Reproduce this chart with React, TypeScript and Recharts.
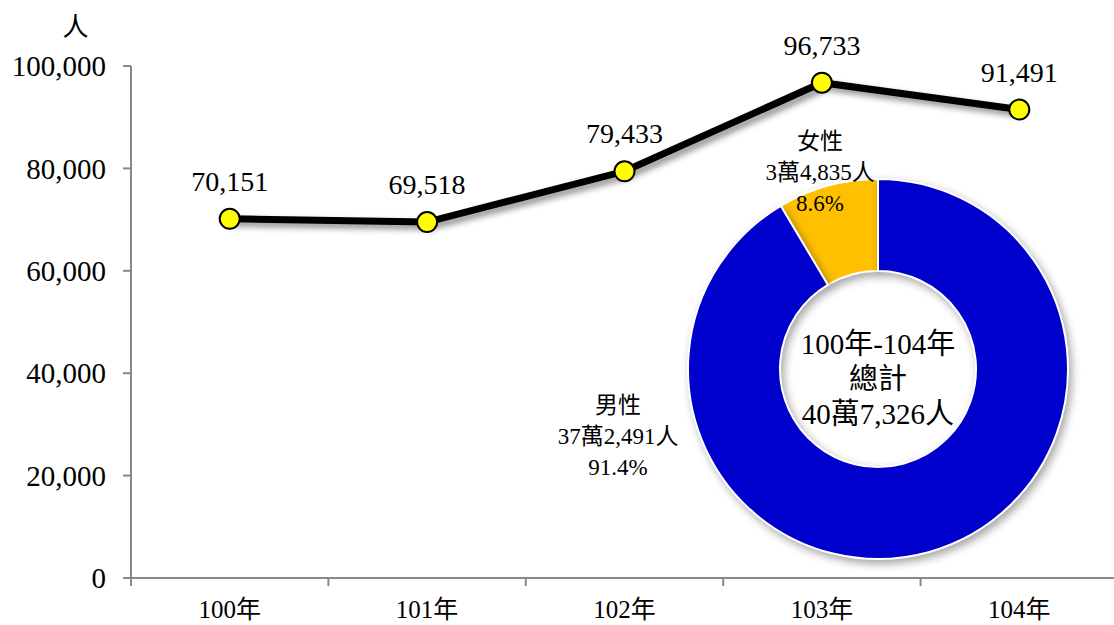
import { LineChart, Line, XAxis, YAxis, LabelList, PieChart, Pie, Cell } from "recharts";

const YEARS = ["100年", "101年", "102年", "103年", "104年"];
const COUNTS = [70151, 69518, 79433, 96733, 91491];
const Y_TICKS = [0, 20000, 40000, 60000, 80000, 100000];

const GENDERS = ["女性", "男性"];
const GENDER_COUNTS = [34835, 372491];
const GENDER_COLORS = ["#FFC000", "#0000CC"];

const W = 1114;
const H = 625;
const LEFT = 131;
const RIGHT = -4;
const PLOT_W = W - LEFT - RIGHT;
const HALF_BAND = PLOT_W / YEARS.length / 2;

const FONT = '"Liberation Serif", "Times New Roman", "Noto Sans CJK TC", serif';

const lineData = YEARS.map((year, i) => ({ year, count: COUNTS[i] }));
const pieData = GENDERS.map((name, i) => ({ name, value: GENDER_COUNTS[i], color: GENDER_COLORS[i] }));
const TOTAL = GENDER_COUNTS.reduce((a, b) => a + b, 0);

const fmtNum = (v: number) => v.toLocaleString("en-US");
const fmtWan = (v: number) => {
  const wan = Math.floor(v / 10000);
  const rest = v % 10000;
  if (wan === 0) return `${fmtNum(rest)}人`;
  const s = String(rest).padStart(4, "0");
  return `${wan}萬${s[0]},${s.slice(1)}人`;
};

const XTick = (props: any) => {
  const { x, y, payload, index } = props;
  const last = index === YEARS.length - 1;
  const axisY = y - 8;
  return (
    <g>
      <line x1={x - HALF_BAND} x2={x - HALF_BAND} y1={axisY} y2={axisY + 8} stroke="#888" strokeWidth={2} />
      {last && <line x1={x + HALF_BAND} x2={x + HALF_BAND} y1={axisY} y2={axisY + 8} stroke="#888" strokeWidth={2} />}
      <text x={x} y={axisY + 31} textAnchor="middle" dominantBaseline="central" fontSize={25} fill="#000" fontFamily={FONT}>
        {payload.value}
      </text>
    </g>
  );
};

const LABEL_OFFSETS: Record<string, { dx: number; dy: number }> = {
  女性: { dx: -58, dy: -228 },
  男性: { dx: -260, dy: 36 },
};

const renderPieLabel = (props: any) => {
  const { cx, cy, name, value, percent, index } = props;
  const o = LABEL_OFFSETS[name] ?? { dx: 0, dy: 0 };
  const x = cx + o.dx;
  const y = cy + o.dy;
  const lines = [name, fmtWan(value), `${(percent * 100).toFixed(1)}%`];
  const center = ["100年-104年", "總計", fmtWan(TOTAL)];
  return (
    <g>
      <text x={x} y={y} textAnchor="middle" fontSize={23} fill="#000" fontFamily={FONT}>
        {lines.map((t, i) => (
          <tspan key={i} x={x} y={y + i * 31} dominantBaseline="central">
            {t}
          </tspan>
        ))}
      </text>
      {index === 0 && (
        <text x={cx} y={cy} textAnchor="middle" fontSize={29} fill="#000" fontFamily={FONT}>
          {center.map((t, i) => (
            <tspan key={i} x={cx} y={cy - 25 + i * 35} dominantBaseline="central">
              {t}
            </tspan>
          ))}
        </text>
      )}
    </g>
  );
};

export default function App() {
  return (
    <div style={{ position: "absolute", top: 0, left: 0, width: W, height: H, background: "#fff", fontFamily: FONT, overflow: "hidden" }}>
      <style>{`
        .trend-line .recharts-line-curve, .trend-line .recharts-line-dots { filter: drop-shadow(4px 4px 3px rgba(0,0,0,0.45)); }
        .gender-pie .recharts-pie-sector { filter: drop-shadow(3px 4px 4px rgba(0,0,0,0.35)); }
      `}</style>
      <div style={{ position: "absolute", top: 0, left: 0 }}>
        <LineChart width={W} height={H} data={lineData} margin={{ top: 66, right: RIGHT, bottom: 0, left: 0 }}>
          <XAxis
            dataKey="year"
            height={47}
            padding={{ left: HALF_BAND, right: HALF_BAND }}
            axisLine={{ stroke: "#888", strokeWidth: 2 }}
            tickLine={false}
            tick={<XTick />}
            interval={0}
          />
          <YAxis
            width={LEFT}
            domain={[0, 100000]}
            ticks={Y_TICKS}
            tickFormatter={fmtNum}
            axisLine={{ stroke: "#888", strokeWidth: 2 }}
            tickLine={{ stroke: "#888", strokeWidth: 2 }}
            tickSize={8}
            tickMargin={17}
            tick={{ fontSize: 29, fill: "#000", fontFamily: FONT }}
            label={{ value: "人", position: "top", offset: 30, dx: 10, fontSize: 26, fill: "#000", fontFamily: FONT }}
          />
          <Line
            className="trend-line"
            dataKey="count"
            stroke="#000"
            strokeWidth={7}
            dot={{ r: 10, fill: "#FFFF00", stroke: "#000", strokeWidth: 2 }}
            isAnimationActive={false}
          >
            <LabelList dataKey="count" position="top" offset={28} formatter={(v: any) => fmtNum(Number(v))} style={{ fontSize: 28, fill: "#000", fontFamily: FONT }} />
          </Line>
        </LineChart>
      </div>
      <div style={{ position: "absolute", top: 0, left: 0, pointerEvents: "none" }}>
        <PieChart width={W} height={H} margin={{ top: 0, right: 0, bottom: 0, left: 0 }}>
          <Pie
            className="gender-pie"
            data={pieData}
            dataKey="value"
            nameKey="name"
            cx={878}
            cy={369}
            innerRadius={98}
            outerRadius={190}
            startAngle={90}
            endAngle={450}
            stroke="#fff"
            strokeWidth={2}
            label={renderPieLabel}
            labelLine={false}
            isAnimationActive={false}
          >
            {pieData.map((d, i) => (
              <Cell key={i} fill={d.color} />
            ))}
          </Pie>
        </PieChart>
      </div>
    </div>
  );
}
